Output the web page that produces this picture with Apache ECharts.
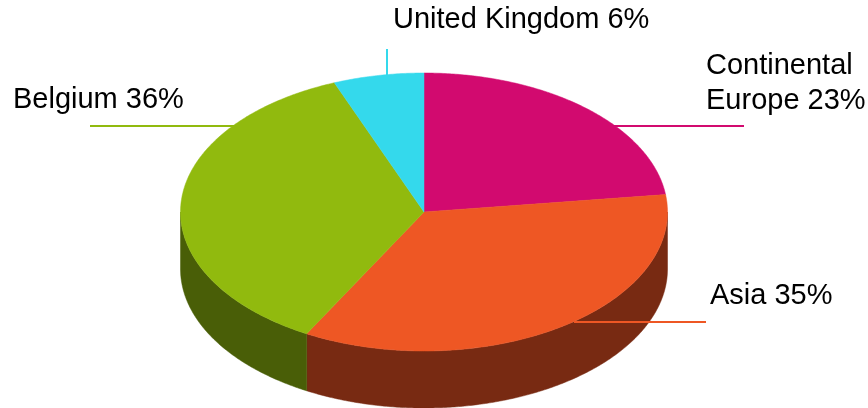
<!DOCTYPE html>
<html><head><meta charset="utf-8">
<script src="https://cdn.jsdelivr.net/npm/echarts@6/dist/echarts.min.js"></script>
<style>html,body{margin:0;padding:0;background:#fff}#c{width:868px;height:408px}</style>
</head><body><div id="c"></div>
<script>
// ---- data ----
const categories = ['Continental\nEurope', 'Asia', 'Belgium', 'United Kingdom'];
const shares = [23, 35, 36, 6];
// ---- styles ----
const topColors = ['#D20A6F', '#EE5724', '#91BA0E', '#34D9EC'];
const sideColors = ['#690537', '#782A12', '#495E07', '#1A6D76'];
// ---- layout ----
const CX = 424, CY = 212, RX = 243.5, RY = 139, DEPTH = 57;
const labelLayout = [
  { x: 706, y: 49, line: [[612, 126], [744, 126]] },
  { x: 710, y: 279, line: [[574, 322], [706, 322]] },
  { x: 13, y: 83, line: [[90, 126], [236, 126]] },
  { x: 393, y: 3, line: [[387, 49], [387, 76]] }
];

const total = shares.reduce((a, b) => a + b, 0);
let acc = 0;
const seriesData = shares.map((v, i) => { const d = { value: [acc, v], name: categories[i] }; acc += v; return d; });

function pt(t, dy) { return [CX + RX * Math.sin(t), CY - RY * Math.cos(t) + (dy || 0)]; }
function arc(a, b, dy) {
  const out = [];
  const n = Math.max(2, Math.ceil((b - a) / (Math.PI / 360)));
  for (let k = 0; k <= n; k++) out.push(pt(a + (b - a) * k / n, dy));
  return out;
}

const chart = echarts.init(document.getElementById('c'), null, { renderer: 'canvas' });
chart.setOption({
  animation: false,
  series: [{
    type: 'custom',
    coordinateSystem: 'none',
    silent: true,
    data: seriesData,
    renderItem: function (params, api) {
      const i = params.dataIndex;
      const start = api.value(0), val = api.value(1);
      const a0 = start / total * 2 * Math.PI, a1 = (start + val) / total * 2 * Math.PI;
      const children = [];
      const s = Math.max(a0, Math.PI / 2), e = Math.min(a1, 3 * Math.PI / 2);
      if (e > s) {
        const pts = arc(s, e, 0).concat(arc(s, e, DEPTH).reverse());
        children.push({ type: 'polygon', z2: 1, shape: { points: pts }, style: { fill: sideColors[i], stroke: sideColors[i], lineWidth: 0.5 } });
      }
      const topPts = [[CX, CY]].concat(arc(a0, a1, 0));
      children.push({ type: 'polygon', z2: 10, shape: { points: topPts }, style: { fill: topColors[i], stroke: topColors[i], lineWidth: 0.5 } });
      const L = labelLayout[i];
      children.push({ type: 'polyline', z2: 5, shape: { points: L.line }, style: { stroke: topColors[i], lineWidth: 2, fill: null } });
      children.push({
        type: 'text', z2: 20,
        style: {
          text: categories[i] + ' ' + shares[i] + '%',
          x: L.x, y: L.y,
          fill: '#000',
          fontSize: 29,
          fontFamily: '"Liberation Sans", Arial, sans-serif',
          align: 'left',
          verticalAlign: 'top',
          lineHeight: 34.5
        }
      });
      return { type: 'group', children: children };
    }
  }]
});
</script>
</body></html>
